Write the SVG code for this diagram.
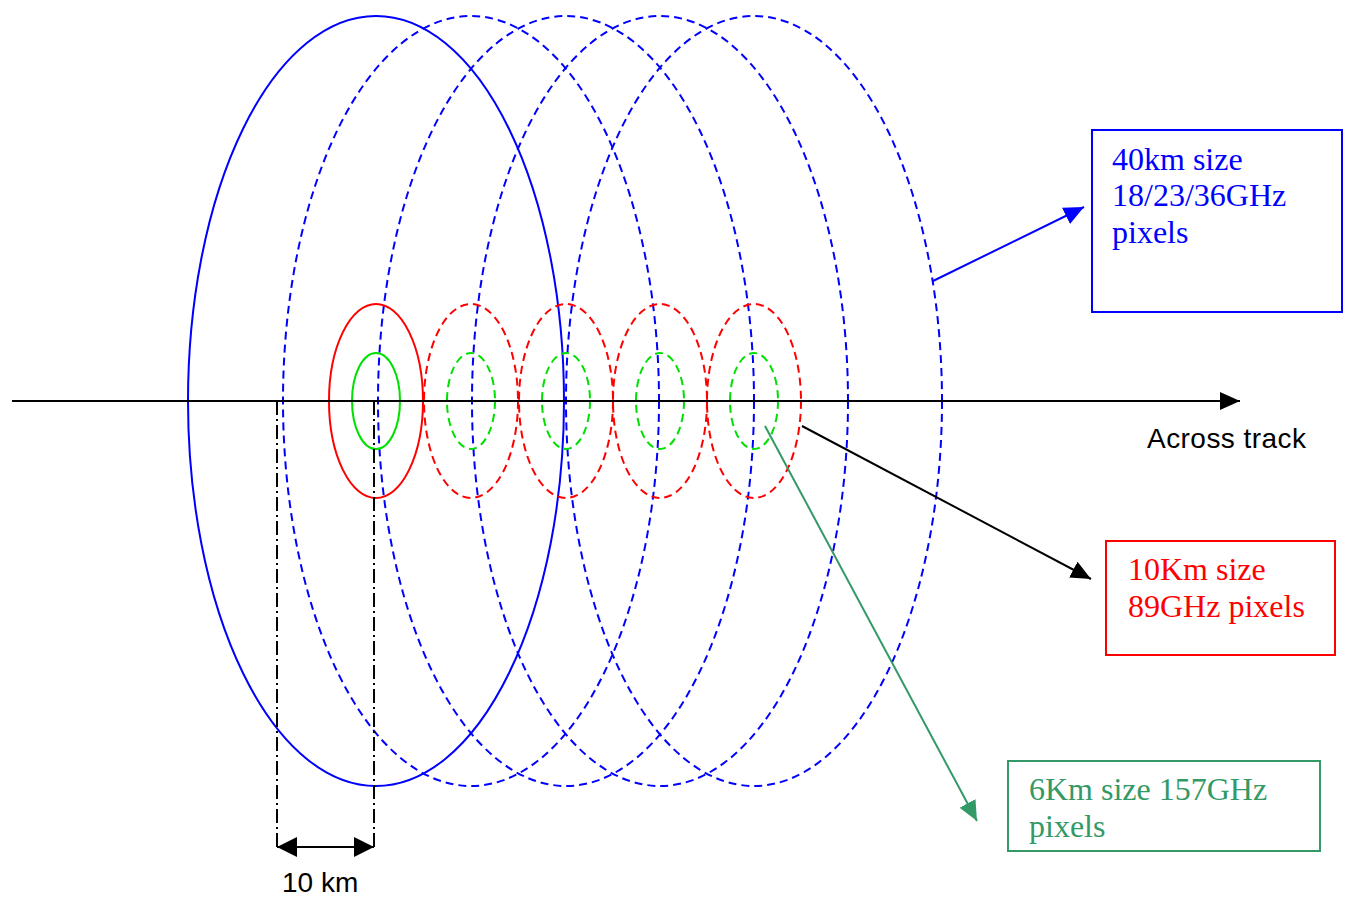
<svg xmlns="http://www.w3.org/2000/svg" width="1348" height="900" viewBox="0 0 1348 900">
<defs>
<style>
.big{fill:none;stroke:#0000ff;stroke-width:2}
.mid{fill:none;stroke:#ff0000;stroke-width:2}
.sm{fill:none;stroke:#00e000;stroke-width:2}
.d{stroke-dasharray:8 5}
.lbl{font-family:"Liberation Serif",serif;font-size:32px}
.sans{font-family:"Liberation Sans",Arial,sans-serif;font-size:28px;fill:#000}
</style>
<marker id="ablue" markerWidth="22" markerHeight="22" refX="20" refY="11" orient="auto" markerUnits="userSpaceOnUse"><path d="M0,2L20,11L0,20z" fill="#0000ff"/></marker>
<marker id="ablk" markerWidth="22" markerHeight="22" refX="20" refY="11" orient="auto" markerUnits="userSpaceOnUse"><path d="M0,2L20,11L0,20z" fill="#000"/></marker>
<marker id="agrn" markerWidth="22" markerHeight="22" refX="20" refY="11" orient="auto" markerUnits="userSpaceOnUse"><path d="M0,2L20,11L0,20z" fill="#339966"/></marker>
<marker id="dim" markerWidth="22" markerHeight="22" refX="20" refY="11" orient="auto-start-reverse" markerUnits="userSpaceOnUse"><path d="M0,1L20,11L0,21z" fill="#000"/></marker>
</defs>
<g id="pixels40">
<ellipse class="big" cx="376" cy="401" rx="188" ry="385"/>
<ellipse class="big d" cx="471" cy="401" rx="188" ry="385"/>
<ellipse class="big d" cx="566" cy="401" rx="188" ry="385"/>
<ellipse class="big d" cx="660" cy="401" rx="188" ry="385"/>
<ellipse class="big d" cx="754" cy="401" rx="188" ry="385"/>
</g>
<g id="pixels10">
<ellipse class="mid" cx="376" cy="401" rx="47" ry="97"/>
<ellipse class="mid d" cx="471" cy="401" rx="47" ry="97"/>
<ellipse class="mid d" cx="566" cy="401" rx="47" ry="97"/>
<ellipse class="mid d" cx="660" cy="401" rx="47" ry="97"/>
<ellipse class="mid d" cx="754" cy="401" rx="47" ry="97"/>
</g>
<g id="pixels6">
<ellipse class="sm" cx="376" cy="401" rx="24" ry="48"/>
<ellipse class="sm d" cx="471" cy="401" rx="24" ry="48"/>
<ellipse class="sm d" cx="566" cy="401" rx="24" ry="48"/>
<ellipse class="sm d" cx="660" cy="401" rx="24" ry="48"/>
<ellipse class="sm d" cx="754" cy="401" rx="24" ry="48"/>
</g>
<g id="connectors">
<line x1="12" y1="401" x2="1240" y2="401" stroke="#000" stroke-width="2" marker-end="url(#ablk)"/>
<line x1="277" y1="401" x2="277" y2="850" stroke="#000" stroke-width="2" stroke-dasharray="14 4 2 4"/>
<line x1="374" y1="401" x2="374" y2="850" stroke="#000" stroke-width="2" stroke-dasharray="14 4 2 4"/>
<line x1="277" y1="847" x2="374" y2="847" stroke="#000" stroke-width="2" marker-start="url(#dim)" marker-end="url(#dim)"/>
<line x1="933" y1="281" x2="1084" y2="207" stroke="#0000ff" stroke-width="2" marker-end="url(#ablue)"/>
<line x1="802" y1="426" x2="1091" y2="579" stroke="#000" stroke-width="2" marker-end="url(#ablk)"/>
<line x1="765" y1="426" x2="977" y2="821" stroke="#339966" stroke-width="2" marker-end="url(#agrn)"/>
</g>
<g id="label-track"><text class="sans" x="1147" y="448" textLength="159">Across track</text></g>
<g id="label-10km"><text class="sans" x="282" y="892">10 km</text></g>
<g id="box40">
<rect x="1092" y="130" width="250" height="182" fill="#fff" stroke="#0000ff" stroke-width="2"/>
<text class="lbl" fill="#0000ff" x="1112" y="170">40km size</text>
<text class="lbl" fill="#0000ff" x="1112" y="206">18/23/36GHz</text>
<text class="lbl" fill="#0000ff" x="1112" y="243">pixels</text>
</g>
<g id="box10">
<rect x="1106" y="541" width="229" height="114" fill="#fff" stroke="#ff0000" stroke-width="2"/>
<text class="lbl" fill="#ff0000" x="1128" y="580">10Km size</text>
<text class="lbl" fill="#ff0000" x="1128" y="617">89GHz pixels</text>
</g>
<g id="box6">
<rect x="1008" y="761" width="312" height="90" fill="#fff" stroke="#339966" stroke-width="2"/>
<text class="lbl" fill="#339966" x="1029" y="800">6Km size 157GHz</text>
<text class="lbl" fill="#339966" x="1029" y="837">pixels</text>
</g>
</svg>
